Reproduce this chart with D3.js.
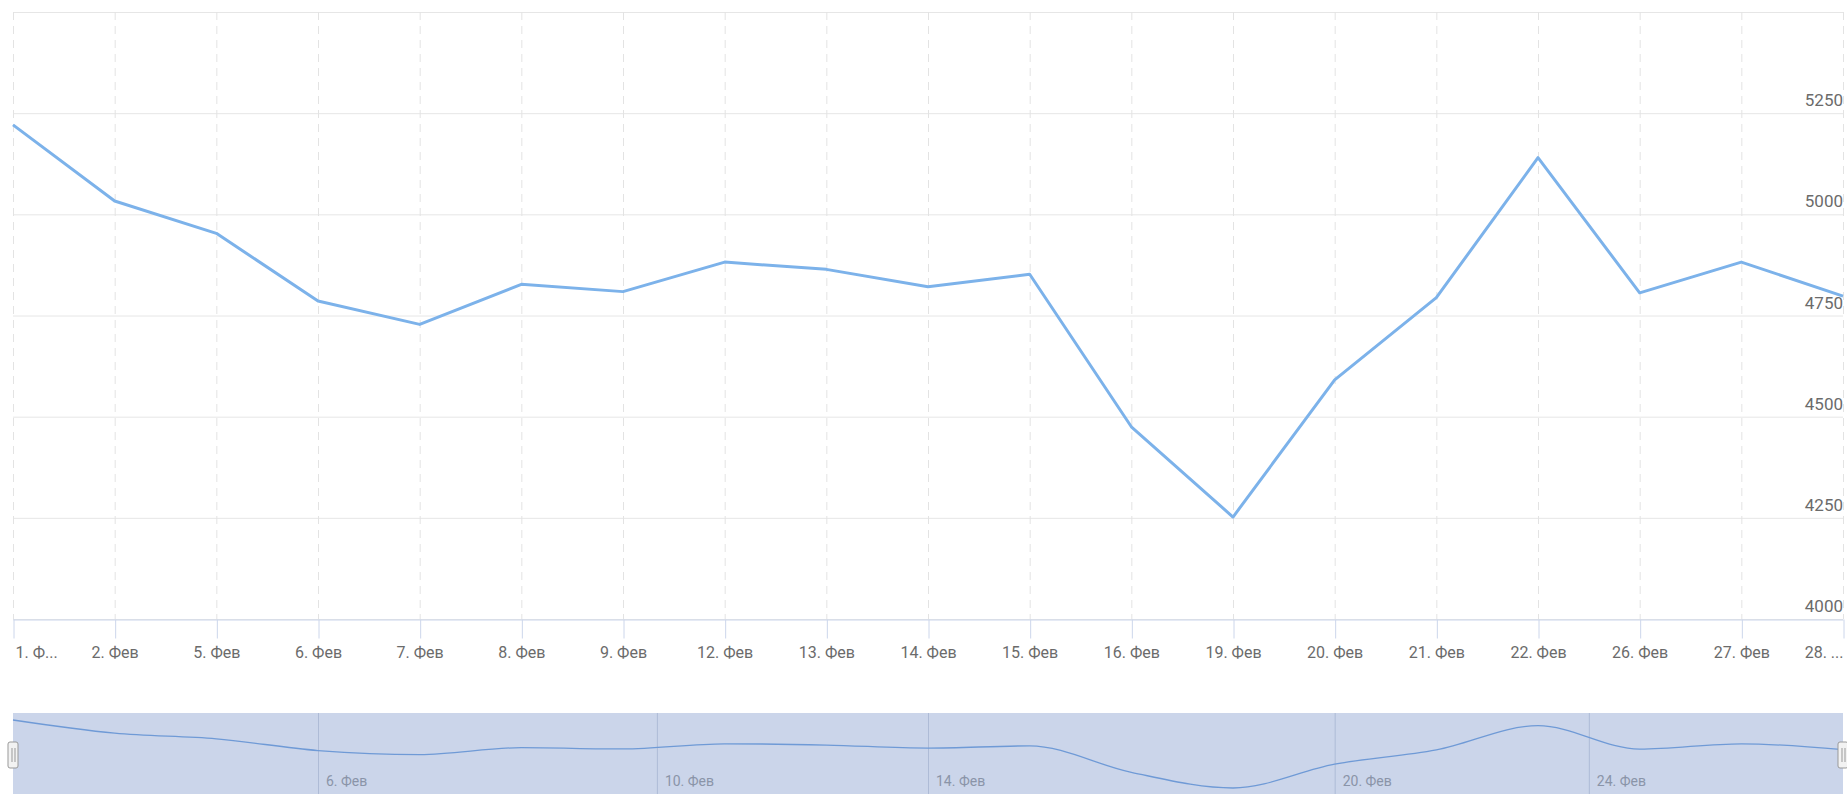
<!DOCTYPE html>
<html>
<head>
<meta charset="utf-8">
<script src="https://cdn.jsdelivr.net/npm/d3@7"></script>
<style>
  body { margin: 0; background: #fff; }
  text { font-family: Roboto, "DejaVu Sans", sans-serif; }
</style>
</head>
<body>
<script>
// February trading days and closing values
const days = [1, 2, 5, 6, 7, 8, 9, 12, 13, 14, 15, 16, 19, 20, 21, 22, 26, 27, 28]
const values = [5221, 5033, 4953, 4786, 4728, 4827, 4809, 4882, 4864, 4821, 4852, 4475, 4252, 4591, 4794, 5140, 4806, 4882, 4798]
const xLabels = ["1. Ф...", "2. Фев", "5. Фев", "6. Фев", "7. Фев", "8. Фев", "9. Фев", "12. Фев", "13. Фев", "14. Фев",
  "15. Фев", "16. Фев", "19. Фев", "20. Фев", "21. Фев", "22. Фев", "26. Фев", "27. Фев", "28. ..."]
const yTicks = [4000, 4250, 4500, 4750, 5000, 5250, 5500]
const navTicks = [6, 10, 14, 20, 24]
const navLabels = ["6. Фев", "10. Фев", "14. Фев", "20. Фев", "24. Фев"]

const W = 1847, H = 794
const plotL = 13, plotR = 1843, plotT = 12, plotB = 619
const navTop = 713, navBottom = 794

const svg = d3.select("body").append("svg").attr("width", W).attr("height", H)

const x = d3.scalePoint().domain(d3.range(days.length)).range([plotL, plotR])
const y = d3.scaleLinear().domain([4000, 5500]).range([plotB, plotT])
// ordinal day axis used by the navigator (weekends squeezed between trading days)
const xDay = d3.scaleLinear().domain(days).range(days.map((d, i) => x(i)))

// horizontal grid
svg.append("g").selectAll("line").data(yTicks).join("line")
  .attr("x1", plotL).attr("x2", plotR)
  .attr("y1", d => y(d) + 0.5).attr("y2", d => y(d) + 0.5)
  .attr("stroke", "#e6e6e6")

// vertical dashed grid
svg.append("g").selectAll("line").data(d3.range(days.length)).join("line")
  .attr("x1", d => x(d) + 0.5).attr("x2", d => x(d) + 0.5)
  .attr("y1", plotT).attr("y2", plotB)
  .attr("stroke", "#e3e3e3").attr("stroke-dasharray", "8,6")

// x axis with long ticks
const xAxis = svg.append("g").attr("transform", `translate(0,${plotB + 0.5})`)
  .call(d3.axisBottom(x).tickSize(19).tickSizeOuter(0).tickPadding(8).tickFormat(i => xLabels[i]))
xAxis.select(".domain").attr("stroke", "#ccd6eb")
xAxis.selectAll(".tick line").attr("stroke", "#ccd6eb").attr("transform", "translate(0.5,0)")
xAxis.selectAll(".tick text").attr("fill", "#6b6b6b").style("font-size", "16px")
  .attr("text-anchor", (d, i) => i === 0 ? "start" : i === days.length - 1 ? "end" : "middle")
  .attr("dx", (d, i) => i === 0 ? 2 : 0)

// y labels, right side above gridlines
svg.append("g").selectAll("text").data(yTicks.filter(d => d < 5500)).join("text")
  .attr("x", plotR).attr("y", d => y(d) - 7)
  .attr("text-anchor", "end").attr("fill", "#6b6b6b").style("font-size", "17px")
  .text(d => d)

// main line
svg.append("path").datum(values)
  .attr("fill", "none").attr("stroke", "#7cb2ea").attr("stroke-width", 3)
  .attr("stroke-linejoin", "round")
  .attr("d", d3.line().x((d, i) => x(i)).y(d => y(d)))

// navigator
const nav = svg.append("g")
const yNav = d3.scaleLinear().domain(d3.extent(values)).range([788, 720])
nav.append("rect").attr("x", plotL).attr("y", navTop).attr("width", plotR - plotL).attr("height", navBottom - navTop)
  .attr("fill", "rgba(102,133,194,0.34)")
nav.selectAll(".navgrid").data(navTicks).join("line").classed("navgrid", true)
  .attr("x1", d => xDay(d) + 0.5).attr("x2", d => xDay(d) + 0.5)
  .attr("y1", navTop).attr("y2", navBottom)
  .attr("stroke", "#aebbd6")
nav.selectAll(".navlabel").data(navTicks).join("text").classed("navlabel", true)
  .attr("x", d => xDay(d) + 8).attr("y", 786)
  .attr("fill", "#8a94a8").style("font-size", "14px")
  .text((d, i) => navLabels[i])
nav.append("path").datum(values)
  .attr("fill", "none").attr("stroke", "#6f9ad6").attr("stroke-width", 1.3)
  .attr("d", d3.line().curve(d3.curveMonotoneX).x((d, i) => x(i)).y(d => yNav(d)))

// handles
const handles = nav.selectAll(".handle").data([plotL, plotR]).join("g").classed("handle", true)
  .attr("transform", d => `translate(${d},755)`)
handles.append("rect").attr("x", -5).attr("y", -13).attr("width", 10).attr("height", 26).attr("rx", 2)
  .attr("fill", "#f2f2f2").attr("stroke", "#999")
handles.selectAll(".grip").data([-1.5, 1.5]).join("line").classed("grip", true)
  .attr("x1", d => d + 0.5).attr("x2", d => d + 0.5).attr("y1", -7).attr("y2", 7)
  .attr("stroke", "#999")
</script>
</body>
</html>
